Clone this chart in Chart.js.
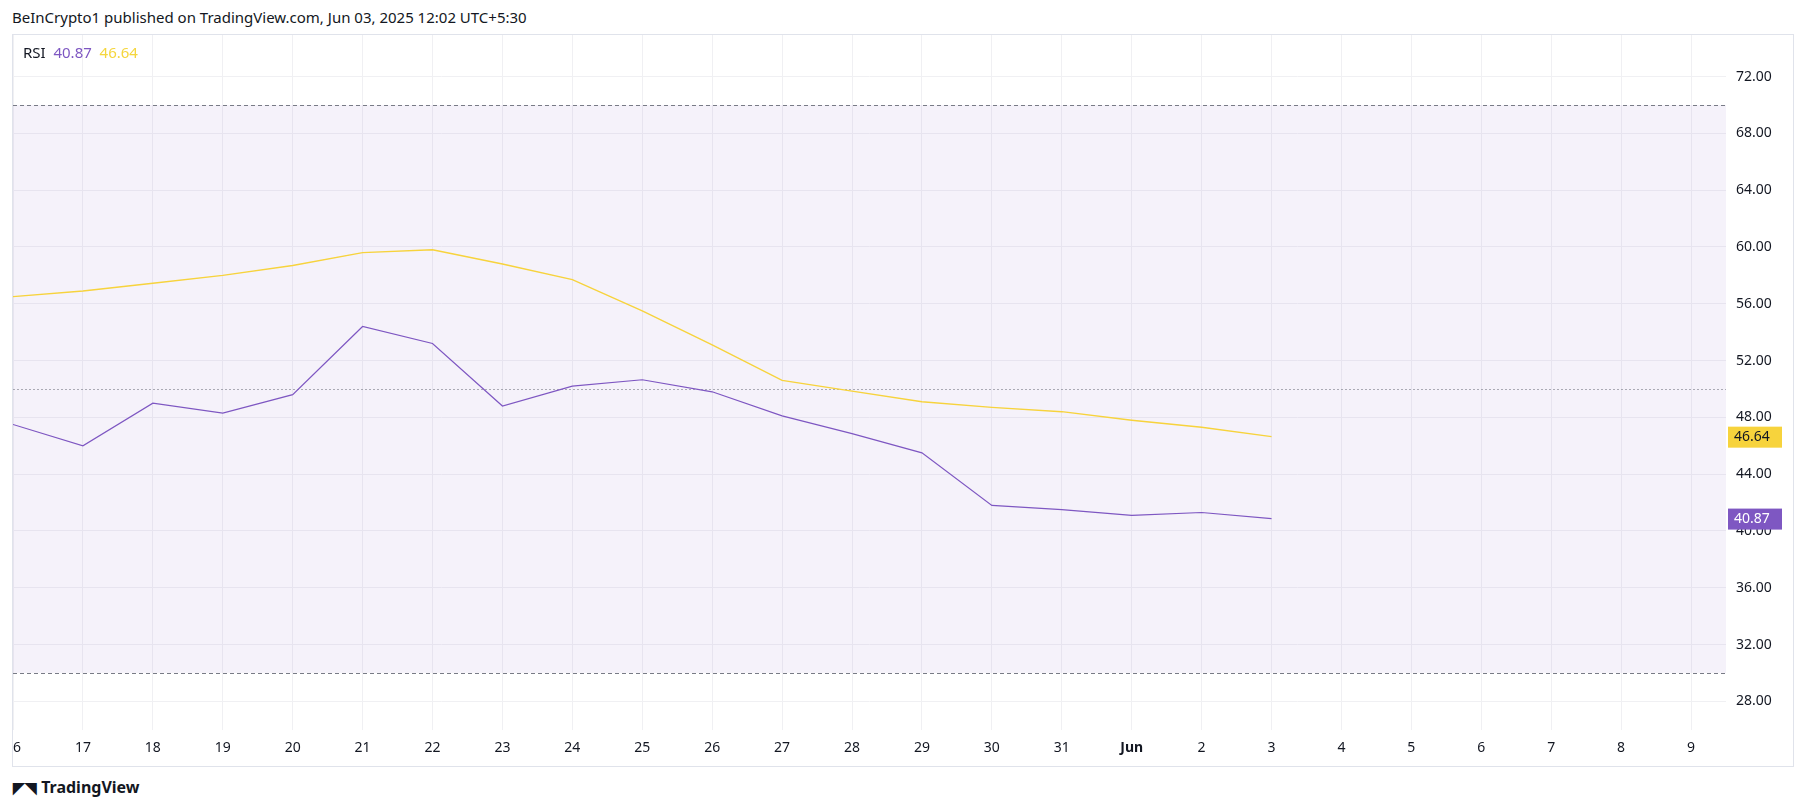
<!DOCTYPE html>
<html>
<head>
<meta charset="utf-8">
<script src="https://cdn.jsdelivr.net/npm/chart.js@4"></script>
<style>
body { margin: 0; background: #fff; font-family: "Noto Sans", sans-serif; width: 1805px; height: 809px; position: relative; overflow: hidden; }
#head { position: absolute; left: 12px; top: 7px; font-size: 15px; color: #131722; }
#legend { position: absolute; left: 23px; top: 42px; font-size: 15px; color: #131722; z-index: 2; }
#box { position: absolute; left: 12px; top: 34px; width: 1782px; height: 733px; border: 1px solid #e0e3eb; box-sizing: border-box; }
#foot { position: absolute; left: 13px; top: 776px; font-size: 16px; font-weight: bold; color: #131722; }
</style>
</head>
<body>
<div id="head">BeInCrypto1 published on TradingView.com, Jun 03, 2025 12:02 UTC+5:30</div>
<div id="legend">RSI&nbsp; <span style="color:#7e57c2">40.87</span>&nbsp; <span style="color:#f5d63d">46.64</span></div>
<div id="box"><canvas id="c"></canvas></div>
<div id="foot"><span style="font-size:15px">◤◥</span> TradingView</div>
<script>
var dayLabels = ['16','17','18','19','20','21','22','23','24','25','26','27','28','29','30','31','Jun','2','3','4','5','6','7','8','9'];
var rsiValues = [47.5, 46.0, 49.0, 48.3, 49.6, 54.4, 53.2, 48.8, 50.2, 50.65, 49.8, 48.1, 46.85, 45.5, 41.8, 41.5, 41.1, 41.3, 40.87];
var maValues = [56.5, 56.9, 57.45, 58.0, 58.7, 59.6, 59.8, 58.8, 57.7, 55.5, 53.1, 50.6, 49.85, 49.1, 48.7, 48.4, 47.8, 47.3, 46.64];
var yTicks = [28, 32, 36, 40, 44, 48, 52, 56, 60, 64, 68, 72];
var bands = [70, 50, 30];

function pts(arr) { return arr.map(function (v, i) { return { x: i, y: v }; }); }

var overlay = {
    id: 'overlay',
    beforeDatasetsDraw: function (chart) {
        var c = chart.ctx, a = chart.chartArea, y = chart.scales.y;
        c.save();
        c.fillStyle = 'rgba(126,87,194,0.08)';
        c.fillRect(a.left, y.getPixelForValue(70), a.right - a.left, y.getPixelForValue(30) - y.getPixelForValue(70));
        bands.forEach(function (b) {
            c.strokeStyle = b == 50 ? 'rgba(120,123,134,0.6)' : '#787b86';
            c.setLineDash(b == 50 ? [2, 2] : [4, 3]);
            c.lineWidth = 1;
            var py = Math.round(y.getPixelForValue(b)) + 0.5;
            c.beginPath(); c.moveTo(a.left, py); c.lineTo(a.right, py); c.stroke();
        });
        c.restore();
    },
    afterDraw: function (chart) {
        var c = chart.ctx, a = chart.chartArea, y = chart.scales.y;
        [[maValues[maValues.length - 1], '#f7d33c', '#131722'], [rsiValues[rsiValues.length - 1], '#7e57c2', '#fff']].forEach(function (t) {
            var py = y.getPixelForValue(t[0]);
            c.fillStyle = t[1];
            c.fillRect(a.right + 2, py - 10, 54, 21);
            c.fillStyle = t[2];
            c.font = '14px "Noto Sans"';
            c.textBaseline = 'middle';
            c.fillText(t[0].toFixed(2), a.right + 8, py);
        });
    }
};

new Chart(document.getElementById('c'), {
    type: 'line',
    data: {
        datasets: [
            { data: pts(rsiValues), borderColor: '#7e57c2', borderWidth: 1.2, pointRadius: 0, tension: 0 },
            { data: pts(maValues), borderColor: '#f7d33c', borderWidth: 1.4, pointRadius: 0, tension: 0 }
        ]
    },
    options: {
        responsive: true, maintainAspectRatio: false, animation: false,
        layout: { padding: 0 },
        plugins: { legend: { display: false }, tooltip: { enabled: false } },
        scales: {
            x: {
                type: 'linear', min: 0, max: 24.5,
                afterBuildTicks: function (s) { s.ticks = dayLabels.map(function (d, i) { return { value: i }; }); },
                ticks: {
                    autoSkip: false, maxRotation: 0, color: '#131722', padding: 10,
                    font: function (ctx) { return { size: 14, family: 'Noto Sans', weight: ctx.tick && ctx.tick.value == 16 ? 'bold' : 'normal' }; },
                    callback: function (v) { return dayLabels[v]; }
                },
                grid: { color: '#f0f0f3', drawTicks: false },
                border: { display: false },
                afterFit: function (s) { s.height = 36; s.paddingLeft = 0; s.paddingRight = 0; }
            },
            y: {
                position: 'right', min: 25.98, max: 74.93,
                afterBuildTicks: function (s) { s.ticks = yTicks.map(function (v) { return { value: v }; }); },
                ticks: { color: '#131722', font: { size: 14, family: 'Noto Sans' }, padding: 10, callback: function (v) { return v.toFixed(2); } },
                grid: { color: '#f0f0f3', drawTicks: false },
                border: { display: false },
                afterFit: function (s) { s.width = 67; s.paddingTop = 0; s.paddingBottom = 0; }
            }
        }
    },
    plugins: [overlay]
});
</script>
</body>
</html>
